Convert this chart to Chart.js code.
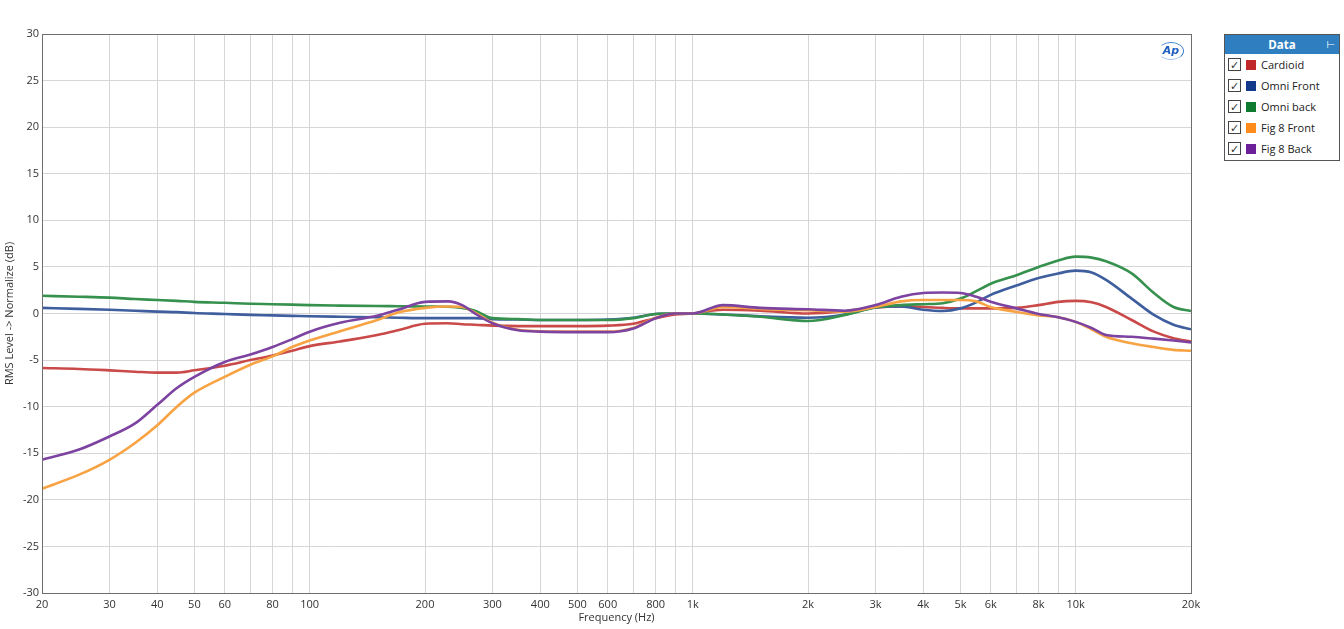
<!DOCTYPE html>
<html>
<head>
<meta charset="utf-8">
<script src="https://cdn.jsdelivr.net/npm/chart.js@4.4.1/dist/chart.umd.min.js"></script>
<style>
  html,body{margin:0;padding:0;background:#fff;}
  #wrap{position:relative;width:1344px;height:629px;}
  #c{position:absolute;left:0;top:0;}
  #legend{position:absolute;left:1224px;top:34px;width:114px;height:125px;border:1px solid #555;background:#fff;font-family:"Open Sans","DejaVu Sans",sans-serif;font-size:11px;color:#222;}
  #legend .hdr{height:19px;background:#2f7fc0;color:#fff;font-weight:bold;text-align:center;line-height:19px;font-size:11.5px;position:relative;}
  #legend .hdr .pin{position:absolute;right:4px;top:0;font-weight:normal;font-size:10px;}
  #legend .row{height:21px;display:flex;align-items:center;}
  #legend .cb{width:11px;height:11px;border:1px solid #444;margin-left:3px;margin-right:5px;font-size:11px;line-height:11px;text-align:center;color:#333;}
  #legend .sw{width:10px;height:10px;margin-right:5px;}
  #ap{position:absolute;left:1158px;top:42px;width:24px;height:16px;border-radius:50%;border:1.5px solid #3b7fd0;border-left-color:transparent;border-bottom-color:#9cc3ee;color:#1f5fbf;font:italic bold 11px "DejaVu Sans",sans-serif;text-align:center;line-height:16px;}
</style>
</head>
<body>
<div id="wrap">
<canvas id="c" width="1344" height="629"></canvas>
<div id="ap">Ap</div>
<div id="legend"></div>
</div>
<script>
const freqs = [20,25,30,35,40,45,50,60,70,80,90,100,120,150,170,200,230,250,270,300,350,400,500,600,700,800,900,1000,1200,1500,2000,2500,3000,3500,4000,4500,5000,5500,6000,7000,8000,9000,10000,11000,12000,14000,16000,18000,20000];

const cardioid   = [-5.85,-5.95,-6.1,-6.25,-6.35,-6.35,-6.1,-5.6,-5.0,-4.5,-4.0,-3.5,-3.0,-2.3,-1.8,-1.1,-1.05,-1.15,-1.2,-1.3,-1.35,-1.35,-1.35,-1.3,-1.1,-0.5,-0.1,0.0,0.4,0.3,0.0,0.25,0.65,0.75,0.7,0.6,0.55,0.55,0.55,0.6,0.9,1.25,1.35,1.2,0.7,-0.7,-1.95,-2.65,-3.0];
const omniFront  = [0.6,0.5,0.4,0.3,0.2,0.15,0.05,-0.05,-0.15,-0.2,-0.25,-0.3,-0.35,-0.4,-0.45,-0.5,-0.5,-0.5,-0.5,-0.6,-0.65,-0.7,-0.7,-0.65,-0.45,-0.05,0.0,0.0,-0.1,-0.3,-0.45,-0.1,0.65,0.75,0.4,0.27,0.55,1.2,2.0,3.0,3.8,4.3,4.6,4.4,3.6,1.6,-0.15,-1.2,-1.7];
const omniBack   = [1.9,1.8,1.7,1.55,1.45,1.35,1.25,1.15,1.05,1.0,0.95,0.9,0.85,0.8,0.78,0.75,0.72,0.6,0.3,-0.5,-0.6,-0.7,-0.7,-0.7,-0.5,-0.05,0.0,0.0,-0.1,-0.35,-0.8,-0.15,0.65,0.9,1.0,1.1,1.6,2.4,3.2,4.1,5.0,5.7,6.1,6.0,5.6,4.3,2.2,0.7,0.27];
const fig8Front  = [-18.8,-17.3,-15.7,-13.9,-12.0,-10.0,-8.5,-6.8,-5.5,-4.6,-3.6,-2.9,-1.9,-0.7,0.1,0.6,0.75,0.7,0.1,-1.0,-1.75,-1.9,-1.95,-1.95,-1.55,-0.45,0.0,0.0,0.7,0.5,0.35,0.2,0.7,1.3,1.45,1.45,1.45,1.3,0.7,0.17,-0.2,-0.4,-0.9,-1.7,-2.5,-3.2,-3.6,-3.9,-4.0];
const fig8Back   = [-15.7,-14.6,-13.2,-11.8,-9.8,-8.0,-6.8,-5.2,-4.4,-3.6,-2.75,-1.95,-1.0,-0.25,0.4,1.25,1.3,0.9,0.0,-1.05,-1.8,-1.95,-2.0,-2.0,-1.6,-0.5,0.0,0.0,0.9,0.6,0.45,0.3,0.9,1.8,2.2,2.25,2.2,1.8,1.27,0.55,-0.05,-0.4,-0.9,-1.55,-2.3,-2.5,-2.7,-2.9,-3.1];

const seriesNames = ["Cardioid","Omni Front","Omni back","Fig 8 Front","Fig 8 Back"];
const seriesValues = [cardioid, omniFront, omniBack, fig8Front, fig8Back];
const lineColors = ["#c94a48","#3f5e9e","#36914e","#f7a343","#7d43a0"];
const swatchColors = ["#c0282a","#12398a","#0e7a30","#ff8c1a","#6b1f99"];

const xTickVals = [];
[10,100,1000,10000].forEach(d=>{for(let m=1;m<=9;m++){const v=m*d; if(v>=20&&v<=20000) xTickVals.push(v);}});
const xLabelMap = {20:"20",30:"30",40:"40",50:"50",60:"60",80:"80",100:"100",200:"200",300:"300",400:"400",500:"500",600:"600",800:"800",1000:"1k",2000:"2k",3000:"3k",4000:"4k",5000:"5k",6000:"6k",8000:"8k",10000:"10k",20000:"20k"};
const yTickVals = [-30,-25,-20,-15,-10,-5,0,5,10,15,20,25,30];

// legend
const lg = document.getElementById('legend');
lg.innerHTML = '<div class="hdr">Data<span class="pin">&#8866;</span></div>' +
  seriesNames.map((n,i)=>'<div class="row"><div class="cb">&#10003;</div><div class="sw" style="background:'+swatchColors[i]+'"></div><span>'+n+'</span></div>').join('');

const frame = {
  id:'frame',
  afterDraw(chart){
    const a = chart.chartArea, ctx = chart.ctx;
    ctx.save(); ctx.strokeStyle='#6e6e6e'; ctx.lineWidth=1;
    ctx.strokeRect(Math.round(a.left)+0.5, Math.round(a.top)+0.5, Math.round(a.right-a.left), Math.round(a.bottom-a.top));
    ctx.restore();
  }
};

const font = {family:'"Open Sans","DejaVu Sans",sans-serif', size:11};

new Chart(document.getElementById('c'), {
  type:'line',
  data:{
    datasets: seriesNames.map((n,i)=>({
      label:n,
      data: freqs.map((f,k)=>({x:f,y:seriesValues[i][k]})),
      borderColor: lineColors[i],
      borderWidth: 2.6,
      pointRadius: 0,
      cubicInterpolationMode:'monotone',
      fill:false,
      order: 5-i
    }))
  },
  options:{
    responsive:false,
    animation:false,
    devicePixelRatio:1,
    layout:{padding:{left:0,right:153,top:34,bottom:0}},
    plugins:{legend:{display:false},tooltip:{enabled:false}},
    scales:{
      x:{
        type:'logarithmic', min:20, max:20000,
        afterBuildTicks(s){ s.ticks = xTickVals.map(v=>({value:v})); },
        afterFit(s){ s.height = 36; },
        ticks:{autoSkip:false, maxRotation:0, padding:5, color:'#333', font,
          callback:(v)=> xLabelMap[v] || ''},
        grid:{color:'#d6d6d6', drawTicks:false},
        border:{display:false},
        title:{display:true, text:'Frequency (Hz)', color:'#333', font, padding:{top:0,bottom:5}}
      },
      y:{
        min:-30, max:30,
        afterBuildTicks(s){ s.ticks = yTickVals.map(v=>({value:v})); },
        afterFit(s){ s.width = 42; },
        ticks:{padding:3, color:'#333', font},
        grid:{color:'#d6d6d6', drawTicks:false},
        border:{display:false},
        title:{display:true, text:'RMS Level -> Normalize (dB)', color:'#333', font, padding:{top:3,bottom:2}}
      }
    }
  },
  plugins:[frame]
});
</script>
</body>
</html>
